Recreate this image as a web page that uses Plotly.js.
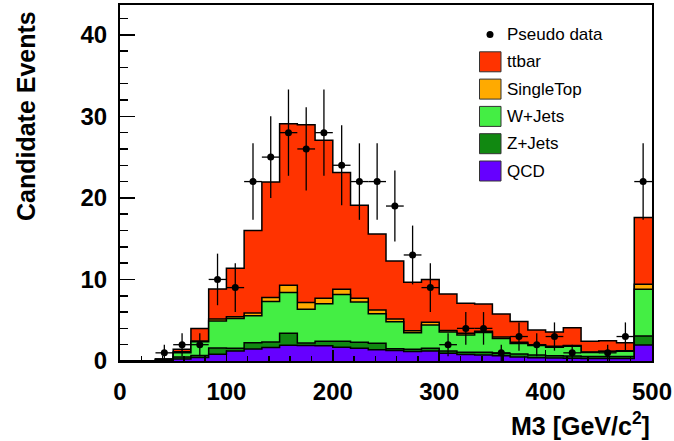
<!DOCTYPE html>
<html>
<head>
<meta charset="utf-8">
<script src="https://cdn.plot.ly/plotly-3.0.1.min.js"></script>
<style>
  html, body { margin: 0; padding: 0; background: #ffffff; }
  #chart { width: 674px; height: 441px; }
</style>
</head>
<body>
<div id="chart"></div>
<script>
// ---------------- data ----------------
const nBins = 30;
const xMin = 0;
const xMax = 500;

// pseudo data counts per bin (last bin includes overflow)
const dataCounts = [0, 0, 1, 2, 2, 10, 9, 22, 25, 28, 26, 28, 24, 22, 22, 19, 13, 9, 2, 4, 4, 1, 3, 2, 3, 1, 0, 1, 3, 22];

// background components per bin
const qcd       = [0, 0, 0.05, 0.25, 0.42, 0.82, 1.23, 1.47, 1.64, 1.92, 1.90, 1.88, 1.68, 1.56, 1.39, 1.30, 1.16, 1.23, 0.94, 0.80, 0.75, 0.65, 0.50, 0.40, 0.38, 0.33, 0.30, 0.30, 0.30, 1.96];
const zjets     = [0, 0, 0.03, 0.25, 0.26, 0.78, 0.33, 0.78, 0.69, 1.48, 0.30, 0.54, 0.74, 0.73, 0.78, 0.21, 0.27, 0.33, 0.29, 0.28, 0.31, 0.29, 0.35, 0.35, 0.27, 0.27, 0.25, 0.25, 0.25, 1.11];
const wjets     = [0, 0, 0.12, 0.50, 1.69, 3.30, 3.64, 3.31, 4.97, 5.00, 4.16, 4.61, 5.72, 4.95, 3.63, 3.29, 2.02, 2.86, 2.32, 2.12, 2.44, 1.82, 1.30, 1.15, 1.05, 1.20, 0.50, 0.60, 0.65, 5.73];
const singletop = [0, 0, 0.02, 0.12, 0.08, 0.25, 0.24, 0.34, 0.50, 0.90, 0.82, 0.66, 0.66, 0.45, 0.46, 0.35, 0.27, 0.33, 0.20, 0.20, 0.15, 0.19, 0.15, 0.10, 0.10, 0.10, 0.05, 0.05, 0.05, 0.61];
const ttbar     = [0, 0, 0.03, 0.31, 1.55, 3.68, 5.93, 10.10, 14.16, 19.80, 21.78, 19.39, 14.30, 11.41, 9.32, 7.12, 5.93, 5.25, 4.47, 3.68, 3.35, 2.80, 2.55, 1.80, 1.76, 2.18, 1.32, 1.29, 1.00, 8.17];

const seriesNames  = ["QCD", "Z+Jets", "W+Jets", "SingleTop", "ttbar"];
const seriesColors = ["#6600ff", "#118811", "#44ee44", "#ffaa00", "#ff3300"];
const yMax = 43.65;

// ---------------- build ----------------
const binW = (xMax - xMin) / nBins;
const edges = [];
for (let i = 0; i <= nBins; i++) edges.push(xMin + i * binW);
const centers = [];
for (let i = 0; i < nBins; i++) centers.push(xMin + (i + 0.5) * binW);

const comps = [qcd, zjets, wjets, singletop, ttbar];
const cums = [];
let run = new Array(nBins).fill(0);
comps.forEach(c => {
  run = run.map((v, i) => v + c[i]);
  cums.push(run.slice());
});

const traces = [];
// draw from top of stack (total) down to the bottom component
for (let k = comps.length - 1; k >= 0; k--) {
  const cum = cums[k];
  traces.push({
    type: "scatter",
    mode: "lines",
    name: seriesNames[k],
    x: edges,
    y: cum.concat([cum[cum.length - 1]]),
    line: { shape: "hv", color: "#000000", width: 1.5 },
    fill: "tozeroy",
    fillcolor: seriesColors[k],
    showlegend: false,
    hoverinfo: "skip"
  });
}

// pseudo data points (non-empty bins)
const dx = [], dy = [], de = [];
dataCounts.forEach((n, i) => {
  if (n > 0) { dx.push(centers[i]); dy.push(n); de.push(Math.sqrt(n)); }
});
traces.push({
  type: "scatter",
  mode: "markers",
  name: "Pseudo data",
  x: dx,
  y: dy,
  marker: { color: "#000000", size: 7, symbol: "circle" },
  error_y: { type: "data", array: de, visible: true, color: "#000000", thickness: 1.3, width: 0 },
  error_x: { type: "constant", value: binW / 2, visible: true, color: "#000000", thickness: 1.3, width: 0 },
  showlegend: false
});

// ---------------- layout ----------------
const W = 674, H = 441;
const L = 120, R = 22, T = 5, B = 80;
const pw = W - L - R, ph = H - T - B;
const px = p => (p - L) / pw;
const py = p => (H - B - p) / ph;

const shapes = [];
const annotations = [];

// y axis title
annotations.push({
  xref: "paper", yref: "paper",
  x: px(26), y: py(9), xanchor: "center", yanchor: "top",
  text: "Candidate Events", textangle: -90, showarrow: false,
  font: { family: "Liberation Sans, Arial, sans-serif", size: 25, weight: "bold", color: "#000000" }
});
// x axis title
annotations.push({
  xref: "paper", yref: "paper",
  x: 1, y: py(406), xanchor: "right", yanchor: "top",
  text: "M3 [GeV/c<sup>2</sup>]", showarrow: false,
  font: { family: "Liberation Sans, Arial, sans-serif", size: 25, weight: "bold", color: "#000000" }
});

// legend
const legLabels = ["Pseudo data", "ttbar", "SingleTop", "W+Jets", "Z+Jets", "QCD"];
const legColors = [null, seriesColors[4], seriesColors[3], seriesColors[2], seriesColors[1], seriesColors[0]];
const rowY0 = 34.5, rowStep = 27.3;
legLabels.forEach((lab, i) => {
  const cy = rowY0 + i * rowStep;
  if (legColors[i] === null) {
    shapes.push({
      type: "circle", xref: "paper", yref: "paper",
      x0: px(486.5), x1: px(493.5), y0: py(cy + 3.5), y1: py(cy - 3.5),
      fillcolor: "#000000", line: { width: 0 }
    });
  } else {
    shapes.push({
      type: "rect", xref: "paper", yref: "paper",
      x0: px(479.5), x1: px(501), y0: py(cy + 10), y1: py(cy - 10),
      fillcolor: legColors[i], line: { color: "#333333", width: 1 }
    });
  }
  annotations.push({
    xref: "paper", yref: "paper",
    x: px(505), y: py(cy), xanchor: "left", yanchor: "middle",
    text: lab, showarrow: false,
    font: { family: "Liberation Sans, Arial, sans-serif", size: 17, color: "#000000" }
  });
});

const tickFont = { family: "Liberation Sans, Arial, sans-serif", size: 24, weight: "bold", color: "#000000" };

const layout = {
  width: W, height: H,
  margin: { l: L, r: R, t: T, b: B, pad: 0 },
  paper_bgcolor: "#ffffff",
  plot_bgcolor: "#ffffff",
  showlegend: false,
  xaxis: {
    range: [xMin, xMax], autorange: false,
    showline: true, linecolor: "#000000", linewidth: 2, mirror: true,
    ticks: "inside", ticklen: 11, tickwidth: 1.5, tickcolor: "#000000",
    tick0: 0, dtick: 100, tickfont: tickFont,
    showgrid: false, zeroline: false,
    minor: { dtick: 20, tick0: 0, ticks: "inside", ticklen: 5.5, tickwidth: 1.5, tickcolor: "#000000", showgrid: false },
    ticklabelstandoff: 8
  },
  yaxis: {
    range: [0, yMax], autorange: false,
    showline: true, linecolor: "#000000", linewidth: 2, mirror: true,
    ticks: "inside", ticklen: 15, tickwidth: 1.5, tickcolor: "#000000",
    tick0: 0, dtick: 10, tickfont: tickFont,
    showgrid: false, zeroline: false,
    minor: { dtick: 2, tick0: 0, ticks: "inside", ticklen: 7.5, tickwidth: 1.5, tickcolor: "#000000", showgrid: false },
    ticklabelstandoff: 6
  },
  shapes: shapes,
  annotations: annotations
};

Plotly.newPlot("chart", traces, layout, { displayModeBar: false, staticPlot: true });
</script>
</body>
</html>
